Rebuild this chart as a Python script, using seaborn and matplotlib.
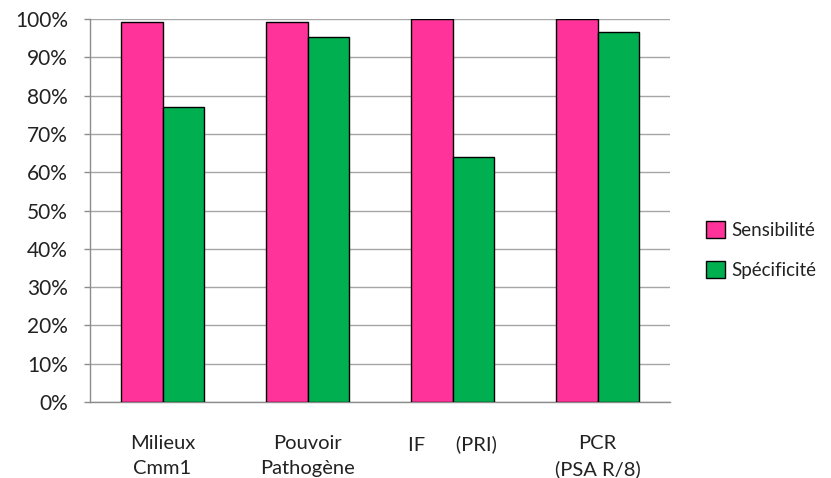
import matplotlib
matplotlib.use("Agg")
import matplotlib.pyplot as plt
import matplotlib.ticker as mticker
import seaborn as sns
import pandas as pd

categories = ["Milieux\nCmm1", "Pouvoir\nPathogène", "IF      (PRI)", "PCR\n(PSA R/8)"]
sensibilite = [99.3, 99.3, 100.0, 100.0]
specificite = [77.1, 95.2, 64.0, 96.7]
series_names = ["Sensibilité", "Spécificité"]
colors = ["#FF3399", "#00B050"]

df = pd.DataFrame({
    "test": categories * 2,
    "serie": [series_names[0]] * 4 + [series_names[1]] * 4,
    "valeur": sensibilite + specificite,
})

sns.set_style("white")
plt.rcParams["font.family"] = ["Lato", "DejaVu Sans"]

fig = plt.figure(figsize=(8.31, 4.78), dpi=100)
ax = fig.add_axes([0.1083, 0.159, 0.698, 0.801])

sns.barplot(data=df, x="test", y="valeur", hue="serie", order=categories,
            hue_order=series_names, palette=colors, saturation=1, width=0.566,
            gap=0, edgecolor="black", linewidth=1.0, errorbar=None, ax=ax,
            zorder=3)

ax.set_ylim(0, 100)
ax.set_xlim(-0.5, 3.5)
ax.yaxis.set_major_locator(mticker.MultipleLocator(10))
ax.yaxis.set_major_formatter(mticker.FuncFormatter(lambda v, p: f"{v:.0f}%"))
ax.grid(axis="y", color="#a6a6a6", linewidth=1.0, zorder=0)
ax.set_axisbelow(True)

for side in ["top", "right"]:
    ax.spines[side].set_visible(False)
for side in ["left", "bottom"]:
    ax.spines[side].set_color("#8c8c8c")
    ax.spines[side].set_linewidth(1.0)

ax.tick_params(axis="y", which="major", length=4, width=1, color="#8c8c8c",
               labelsize=15, labelcolor="#222222", pad=12, left=True)
ax.tick_params(axis="x", length=0, labelsize=14.5, labelcolor="#222222", pad=24)
for lbl in ax.get_xticklabels():
    lbl.set_linespacing(1.55)
    lbl.set_verticalalignment("top")

ax.set_xlabel("")
ax.set_ylabel("")

handles, labels = ax.get_legend_handles_labels()
ax.legend(handles, labels, loc="center left", bbox_to_anchor=(0.838, 0.477),
          bbox_transform=fig.transFigure, frameon=False, fontsize=13.5,
          handlelength=1.0, handleheight=1.0, handletextpad=0.35,
          labelspacing=1.15, borderpad=0, labelcolor="#222222")

fig.savefig("out.png", dpi=100)
